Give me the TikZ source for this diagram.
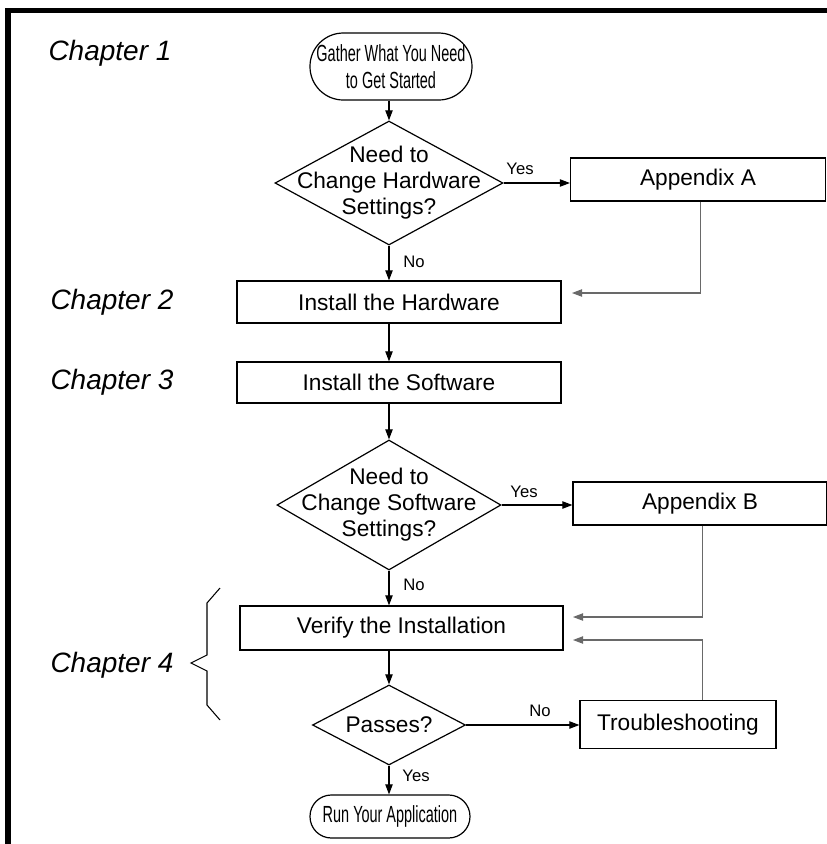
\documentclass[tikz,border=0pt]{standalone}
\usepackage{fontspec}
\usepackage{graphicx}
\setmainfont{Liberation Sans}
\usetikzlibrary{shapes.geometric,arrows.meta}
\definecolor{retgray}{RGB}{105,105,105}
\begin{document}
\begin{tikzpicture}[x=0.75pt,y=-0.75pt,
  every node/.style={inner sep=0pt,font=\fontsize{17}{19.5}\selectfont},
  box/.style={draw,rectangle,line width=0.9pt,align=center},
  term/.style={draw,rectangle,line width=0.9pt,align=center,font=\fontsize{17.5}{20.5}\selectfont},
  dia/.style={draw,diamond,line width=0.9pt},
  conn/.style={line width=0.8pt,-{Triangle[length=7.5pt,width=5.5pt]}},
  ret/.style={conn,draw=retgray},
  chap/.style={font=\fontsize{21}{24}\selectfont\itshape},
  lab/.style={font=\fontsize{12.5}{14}\selectfont}
]
\useasboundingbox (0,0) rectangle (827,844);
% frame
\fill (5,8) rectangle (827,13);
\fill (5,8) rectangle (11,844);

% chapter labels
\node[chap] (c1) at (110,53) {Chapter 1};
\node[chap] (c2) at (112,302) {Chapter 2};
\node[chap] (c3) at (112,382) {Chapter 3};
\node[chap] (c4) at (112,665) {Chapter 4};

% nodes
\node[term,rounded corners=25pt,minimum width=121.5pt,minimum height=50.25pt] (start) at (391,66.5)
  {\scalebox{0.62}[1]{Gather What You Need}\\\scalebox{0.62}[1]{to Get Started}};
\node[dia,minimum width=171pt,minimum height=93pt] (d1) at (389,183) {};
\node[align=center] (d1t) at (389,183) {Need to\\Change Hardware\\Settings?};
\node[box,minimum width=191.25pt,minimum height=32.25pt] (appA) at (698,179.5) {Appendix A};
\node[box,minimum width=243pt,minimum height=31.5pt] (hw) at (399,302) {Install the Hardware};
\node[box,minimum width=243pt,minimum height=30.75pt] (sw) at (399,382.5) {Install the Software};
\node[dia,minimum width=168pt,minimum height=97.5pt] (d2) at (389,505) {};
\node[align=center] (d2t) at (389,505) {Need to\\Change Software\\Settings?};
\node[box,minimum width=190.5pt,minimum height=32.25pt] (appB) at (700,503.5) {Appendix B};
\node[box,minimum width=242.25pt,minimum height=33pt] (ver) at (401.5,628) {Verify the Installation};
\node[dia,minimum width=114.75pt,minimum height=60pt] (pass) at (389,725) {};
\node (passt) at (389,725) {Passes?};
\node[box,minimum width=147pt,minimum height=36pt] (ts) at (678,724.5) {Troubleshooting};
\node[term,rounded corners=16pt,minimum width=120pt,minimum height=32.25pt] (run) at (390,816.5)
  {\scalebox{0.62}[1]{Run Your Application}};

% connectors
\coordinate (sts) at (start.south -| d1.north);
\coordinate (hwb) at (hw.south -| d1.south);
\coordinate (swt) at (sw.north -| d1.south);
\coordinate (swb) at (sw.south -| d2.north);
\coordinate (verb) at (ver.south -| pass.north);
\coordinate (runt) at (run.north -| pass.south);
\draw[conn] (sts) -- (d1.north);
\draw[conn] (d1.east) -- (d1.east -| appA.west);
\draw[conn] (d1.south) -- (d1.south |- hw.north);
\coordinate (a1) at (572,293);
\draw[ret] ([xshift=2pt]appA.south) |- (a1);
\draw[conn] (hwb) -- (swt);
\draw[conn] (swb) -- (d2.north);
\draw[conn] (d2.east) -- (d2.east -| appB.west);
\draw[conn] (d2.south) -- (d2.south |- ver.north);
\coordinate (b1) at (573,617);
\draw[ret] ([xshift=2pt]appB.south) |- (b1);
\coordinate (t1) at (573,640);
\coordinate (tsn) at ([xshift=2pt]ts.north -| appB.south);
\draw[ret] (tsn) |- (t1);
\draw[conn] (verb) -- (pass.north);
\draw[conn] (pass.east) -- (pass.east -| ts.west);
\draw[conn] (pass.south) -- (runt);

% labels
\node[lab] (y1) at (520,169) {Yes};
\node[lab] (n1) at (414,262) {No};
\node[lab] (y2) at (524,492) {Yes};
\node[lab] (n2) at (414,585) {No};
\node[lab] (n3) at (540,711) {No};
\node[lab] (y3) at (416,776) {Yes};

% brace
\draw[line width=0.8pt] (220,588) -- (207,603) -- (207,655) -- (191,663) -- (207,671) -- (207,705) -- (220,720);
\end{tikzpicture}
\end{document}
